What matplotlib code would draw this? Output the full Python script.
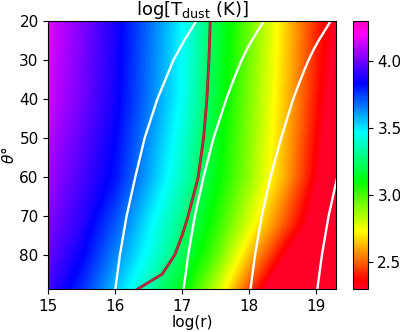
import numpy as np
import matplotlib as mpl
mpl.use('Agg')
from matplotlib import pyplot as plt
import matplotlib.patheffects as pe

# Dust temperature field, log T on a coarse grid
log_r = [15.0, 15.5, 16.0, 16.5, 17.0, 17.5, 18.0, 18.5, 19.0, 19.3]
theta = [20, 40, 60, 72, 80, 89]
log_t = [
    [4.16, 4.02, 3.87, 3.68, 3.47, 3.21, 2.95, 2.69, 2.42, 2.30],
    [4.13, 4.00, 3.86, 3.66, 3.45, 3.18, 2.92, 2.67, 2.39, 2.22],
    [4.06, 3.94, 3.81, 3.59, 3.37, 3.13, 2.89, 2.63, 2.33, 2.15],
    [4.02, 3.89, 3.71, 3.49, 3.28, 3.05, 2.78, 2.50, 2.23, 2.06],
    [3.98, 3.84, 3.64, 3.44, 3.23, 2.97, 2.64, 2.34, 2.04, 1.86],
    [3.92, 3.77, 3.55, 3.34, 3.12, 2.82, 2.46, 2.10, 1.75, 1.55],
]

# White curves (log r along theta)
theta_white = [20, 22.5, 25, 27.5, 30, 35, 40, 50, 60, 70, 80, 89]
white_curves = [
    [17.21, 17.12, 17.03, 16.95, 16.87, 16.75, 16.63, 16.44, 16.30, 16.17, 16.07, 16.00],
    [18.22, 18.13, 18.04, 17.96, 17.89, 17.77, 17.66, 17.47, 17.32, 17.19, 17.09, 17.02],
    [19.22, 19.13, 19.04, 18.96, 18.89, 18.77, 18.66, 18.48, 18.32, 18.19, 18.09, 18.02],
    [20.22, 20.13, 20.04, 19.96, 19.89, 19.77, 19.66, 19.47, 19.32, 19.19, 19.09, 19.02],
]

# Red curve
theta_red = [20, 30, 40, 50, 60, 70, 75, 80, 85, 90]
r_red = [17.42, 17.40, 17.37, 17.32, 17.24, 17.09, 17.00, 16.89, 16.70, 16.22]

vmin, vmax = 2.3, 4.3
cmap = mpl.colormaps['gist_rainbow']

fig = plt.figure(figsize=(4.0, 3.32), dpi=100)
ax = fig.add_axes([0.121, 0.1295, 0.719, 0.807])
cax = fig.add_axes([0.883, 0.1295, 0.036, 0.807])

ax.contourf(log_r, theta, log_t, levels=np.linspace(vmin, vmax, 256),
            cmap=cmap, extend='both', antialiased=False)

for curve in white_curves:
    ax.plot(curve, theta_white, color='white', lw=1.7)

ax.plot(r_red, theta_red, color='#c8283c', lw=1.2,
        path_effects=[pe.Stroke(linewidth=2.0, foreground='#8a1c2c'), pe.Normal()])

ax.set_xlim(15, 19.3)
ax.set_ylim(88.8, 20)
ax.set_xticks([15, 16, 17, 18, 19])
ax.set_yticks([20, 30, 40, 50, 60, 70, 80])
ax.tick_params(labelsize=11)
ax.set_xlabel('log(r)', fontsize=11, labelpad=1)
ax.set_ylabel(r'$\theta$°', fontsize=11, labelpad=2)
ax.set_title(r'log[T$_{\rm dust}$ (K)]', fontsize=13, pad=1.5)

sm = mpl.cm.ScalarMappable(norm=mpl.colors.Normalize(vmin, vmax), cmap=cmap)
cb = fig.colorbar(sm, cax=cax, ticks=[2.5, 3.0, 3.5, 4.0], format='%.1f')
cb.ax.tick_params(labelsize=11)

fig.savefig('out.png', dpi=100)
